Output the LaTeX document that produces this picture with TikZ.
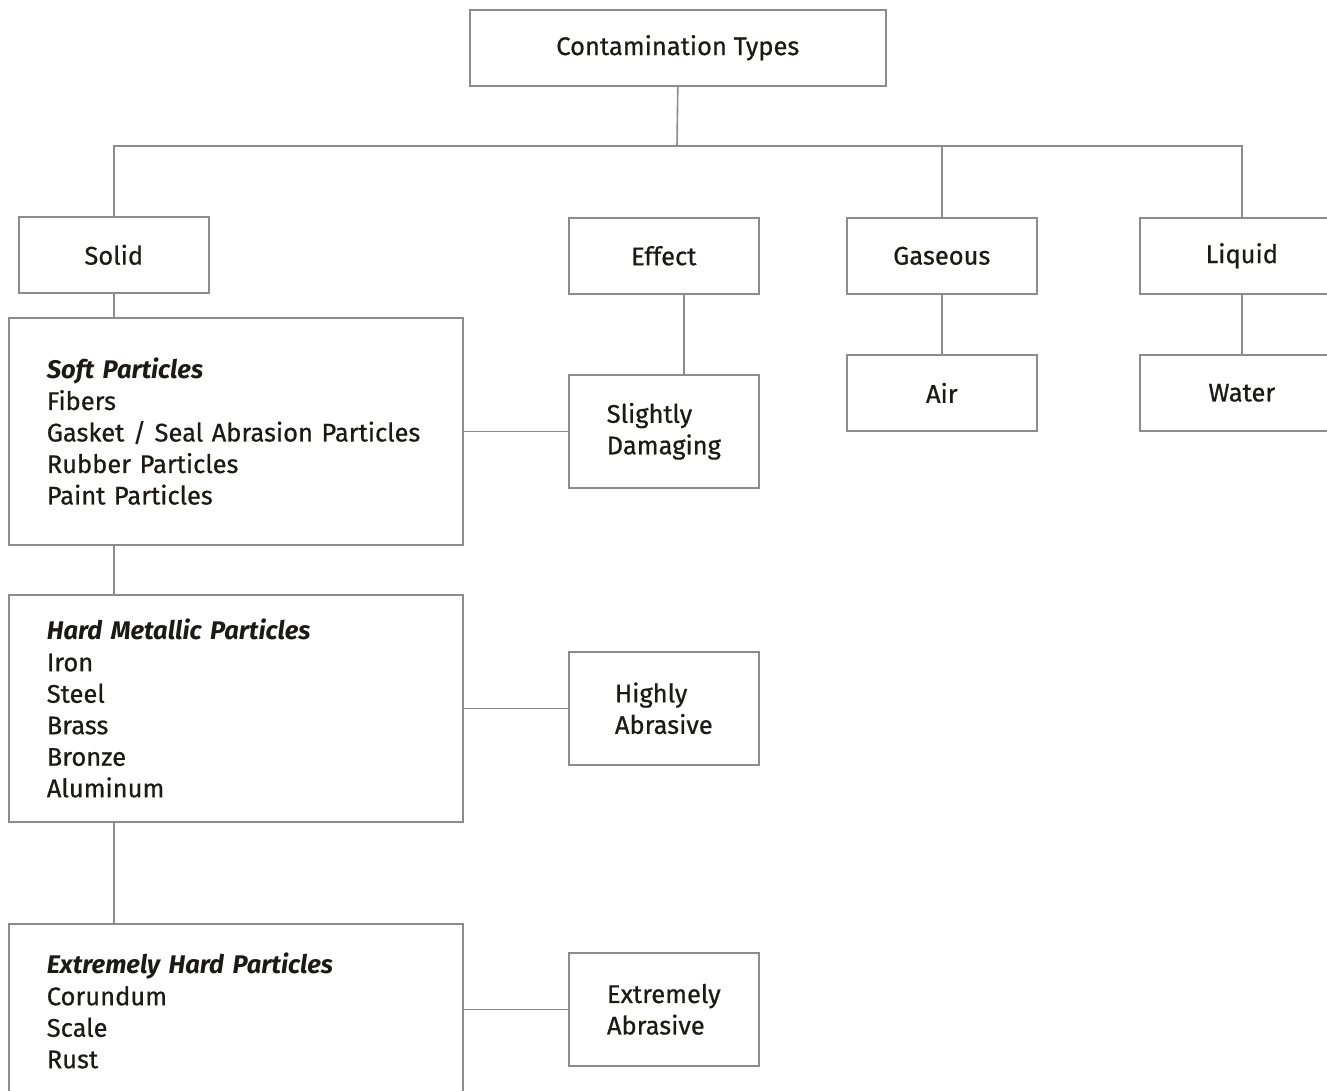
\documentclass[tikz,border=0pt]{standalone}
\usepackage{fontspec}
\setmainfont{Fira Sans}[UprightFeatures={FakeBold=0.6}]
\usepackage{xcolor}
\usetikzlibrary{positioning}

\definecolor{linegray}{HTML}{8C8C8C}
\definecolor{textdark}{HTML}{1C1916}

\begin{document}
\begin{tikzpicture}[
    x=1pt, y=-1pt,
    box/.style={
        rectangle,
        draw=linegray,
        line width=1.6pt,
        fill=white,
        minimum width=190pt,
        minimum height=76pt,
        align=center,
        text=textdark,
        font=\fontsize{25.5}{31.5}\selectfont
    },
    listbox/.style={
        rectangle,
        draw=linegray,
        line width=1.6pt,
        fill=white,
        minimum width=454pt,
        minimum height=227pt,
        text width=378pt,
        inner xsep=38pt,
        align=left,
        text=textdark,
        font=\fontsize{25.5}{31.5}\selectfont
    },
    effbox/.style={box, minimum height=113pt, align=left},
    conn/.style={draw=linegray, line width=1.6pt}
]
\useasboundingbox[clip] (0,0) rectangle (1327,1090);

% top level
\node[box, anchor=north west, minimum width=416pt] (types) at (469,9) {Contamination Types};
\coordinate (bus) at (677,146);

\node[box, anchor=north west] (solid) at (18,216) {Solid};
\node[box, anchor=north west] (effect) at (568,217) {Effect};
\node[box, anchor=north west] (gaseous) at (846,217) {Gaseous};
\node[box, anchor=north west, minimum width=204pt] (liquid) at (1139,217) {Liquid};

\node[box, anchor=north west] (air) at (846,354) {Air};
\node[box, anchor=north west, minimum width=204pt] (water) at (1139,354) {Water};

% particle groups
\node[listbox, anchor=north west] (soft) at (8,317) {%
    \textbf{\textit{Soft Particles}}\\
    Fibers\\
    Gasket / Seal Abrasion Particles\\
    Rubber Particles\\
    Paint Particles};
\node[listbox, anchor=north west] (hard) at (8,594) {%
    \textbf{\textit{Hard Metallic Particles}}\\
    Iron\\
    Steel\\
    Brass\\
    Bronze\\
    Aluminum};
\node[listbox, anchor=north west, minimum height=174pt] (xhard) at (8,923) {%
    \textbf{\textit{Extremely Hard Particles}}\\
    Corundum\\
    Scale\\
    Rust};

% effects
\node[effbox, anchor=north west] (slight) at (568,374) {Slightly\\Damaging};
\node[effbox, anchor=north west] (highly) at (568,651) {Highly\\Abrasive};
\node[effbox, anchor=north west] (xabr) at (568,952) {Extremely\\Abrasive};

% connectors
\draw[conn] (types.south) -- (bus);
\draw[conn] (bus) -| (solid.north);
\draw[conn] (bus) -| (gaseous.north);
\draw[conn] (bus) -| (liquid.north);
\draw[conn] (gaseous.south) -- (air.north);
\draw[conn] (liquid.south) -- (water.north);
\draw[conn] ([xshift=20pt]effect.south) -- ([xshift=20pt]slight.north);
\draw[conn] (solid.south) -- (solid.south |- soft.north);
\draw[conn] (solid.south |- soft.south) -- (solid.south |- hard.north);
\draw[conn] (solid.south |- hard.south) -- (solid.south |- xhard.north);
\draw[conn] (soft.east) -- (slight.west);
\draw[conn] (hard.east) -- (highly.west);
\draw[conn] (xhard.east |- xabr.west) -- (xabr.west);

\end{tikzpicture}
\end{document}
